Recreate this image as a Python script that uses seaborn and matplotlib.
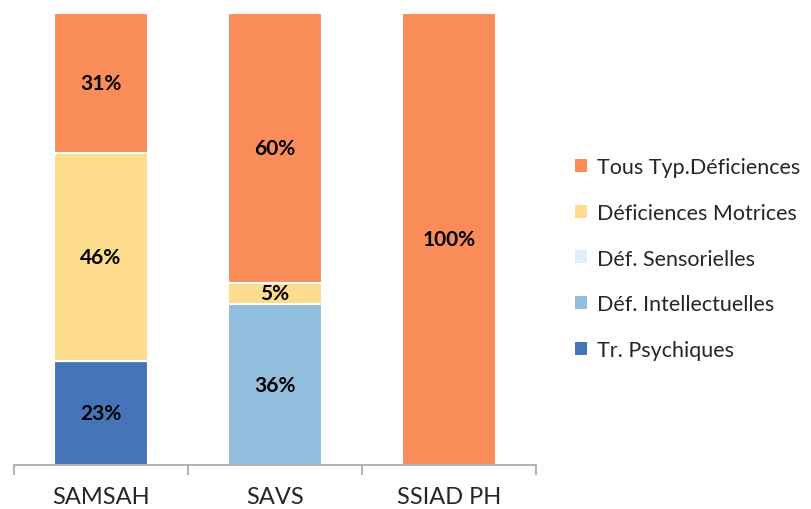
import matplotlib
matplotlib.use("Agg")
import matplotlib.pyplot as plt
import seaborn as sns
import pandas as pd
from matplotlib.patches import Patch

# Data (percent share per service type)
services = ["SAMSAH", "SAVS", "SSIAD PH"]
categories = ["Tr. Psychiques", "Déf. Intellectuelles", "Déf. Sensorielles",
              "Déficiences Motrices", "Tous Typ.Déficiences"]
psychiques = [23.0, 0.0, 0.0]
intellectuelles = [0.0, 35.6, 0.0]
sensorielles = [0.0, 0.0, 0.0]
motrices = [46.0, 4.7, 0.0]
tous_types = [31.0, 59.7, 100.0]
colors = ["#4674B8", "#92BDDC", "#DDEFF8", "#FEDC8E", "#FA8C5A"]

series = [psychiques, intellectuelles, sensorielles, motrices, tous_types]

sns.set_style("white")
plt.rcParams["font.family"] = ["Lato", "DejaVu Sans"]

fig = plt.figure(figsize=(8.12, 5.1), dpi=100)
ax = fig.add_axes([14 / 812, 1 - 466 / 510, 522 / 812, 452 / 510])

bottom = [0.0, 0.0, 0.0]
for name, vals, col in zip(categories, series, colors):
    df = pd.DataFrame({"service": services, "pct": vals})
    sns.barplot(data=df, x="service", y="pct", color=col, bottom=bottom,
                width=0.535, edgecolor="white", linewidth=1.5, ax=ax,
                saturation=1, zorder=1)
    for i, v in enumerate(vals):
        if v > 0:
            ax.text(i, bottom[i] + v / 2, f"{round(v):.0f}%", ha="center",
                    va="center", fontsize=15, fontweight="bold", color="black")
    bottom = [b + v for b, v in zip(bottom, vals)]

ax.set_xlim(-0.5, 2.5)
ax.set_ylim(0, 100)
ax.set_yticks([])
ax.set_xlabel("")
ax.set_ylabel("")
for s in ["top", "right", "left"]:
    ax.spines[s].set_visible(False)
ax.spines["bottom"].set_color("#A6A6A6")
ax.spines["bottom"].set_linewidth(1.2)
ax.spines["bottom"].set_zorder(3)
ax.set_xticks([-0.5, 0.5, 1.5, 2.5], minor=True)
ax.tick_params(axis="x", which="minor", bottom=True, length=7,
               color="#A6A6A6", width=1.2)
ax.tick_params(axis="x", which="major", length=0, labelsize=17, pad=15)

handles = [Patch(facecolor=c, edgecolor="none", label=n)
           for n, c in zip(categories, colors)][::-1]
fig.legend(handles=handles, loc="center left", bbox_to_anchor=(0.684, 0.491),
           frameon=False, fontsize=15.5, handlelength=0.55, handleheight=0.55,
           handletextpad=0.5, labelspacing=1.2)

fig.savefig("out.png", dpi=100)
